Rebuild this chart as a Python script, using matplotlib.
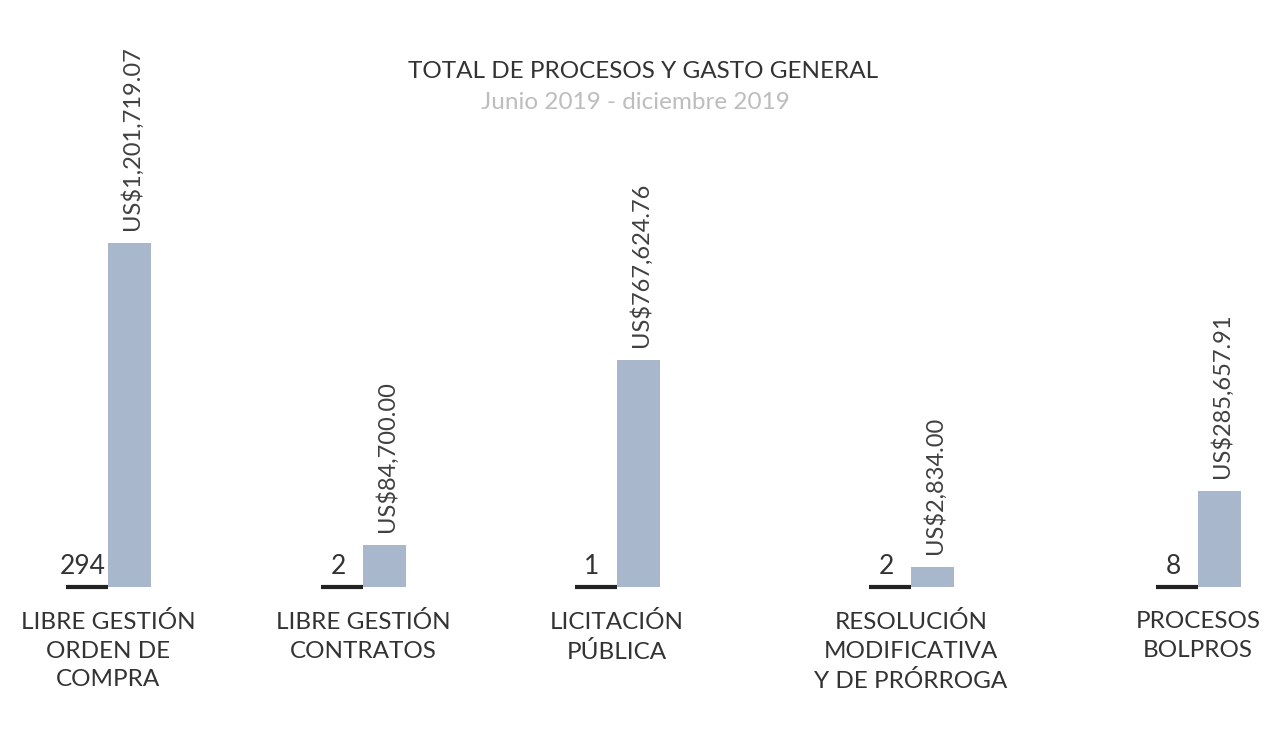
import matplotlib.pyplot as plt
import numpy as np

# datos del grafico
categorias = ['LIBRE GESTIÓN\nORDEN DE\nCOMPRA', 'LIBRE GESTIÓN\nCONTRATOS', 'LICITACIÓN\nPÚBLICA',
              'RESOLUCIÓN\nMODIFICATIVA\nY DE PRÓRROGA', 'PROCESOS\nBOLPROS']
procesos = [294, 2, 1, 2, 8]
gasto = [1201719.07, 84700.00, 767624.76, 2834.00, 285657.91]
etiquetas_gasto = ['US$1,201,719.07', 'US$84,700.00', 'US$767,624.76', 'US$2,834.00', 'US$285,657.91']

titulo = 'TOTAL DE PROCESOS Y GASTO GENERAL'
subtitulo = 'Junio 2019 - diciembre 2019'

# layout (pixeles de la figura)
pos_x = [108, 363, 617, 911, 1198]
ancho = 43
piso = -70000          # las barras arrancan un poco debajo de cero para que se vean las pequeñas

plt.rcParams['font.family'] = ['Lato', 'DejaVu Sans']

fig = plt.figure(figsize=(12.64, 7.35), dpi=100)
fig.patch.set_facecolor('white')
ax = fig.add_axes([0, (735 - 587) / 735, 1, 344 / 735])
ax.set_xlim(0, 1264)
ax.set_ylim(piso, max(gasto))
ax.axis('off')

alturas = np.array(gasto) - piso
ax.bar(pos_x, alturas, bottom=piso, width=ancho, align='edge', color='#a9b7cd', clip_on=False)

for x, n, g, et, cat in zip(pos_x, procesos, gasto, etiquetas_gasto, categorias):
    ax.hlines(piso, x - 42, x, color='#222222', linewidth=3, clip_on=False)
    ax.annotate(str(n), (x - 25, piso), xytext=(0, 8), textcoords='offset pixels',
                ha='center', va='bottom', fontsize=19, color='#333333')
    ax.annotate(et, (x + ancho / 2, g), xytext=(2, 13), textcoords='offset pixels',
                ha='center', va='bottom', rotation=90, fontsize=17, color='#404040')
    ax.annotate(cat, (x, piso), xytext=(0, -24), textcoords='offset pixels',
                ha='center', va='top', fontsize=17.5, color='#333333', linespacing=1.45)

fig.text(643 / 1264, 1 - 61 / 735, titulo, ha='center', va='top', fontsize=17.5, color='#333333')
fig.text(635 / 1264, 1 - 92 / 735, subtitulo, ha='center', va='top', fontsize=17.5, color='#bdbdbd')

fig.savefig('out.png', dpi=100, facecolor='white')
